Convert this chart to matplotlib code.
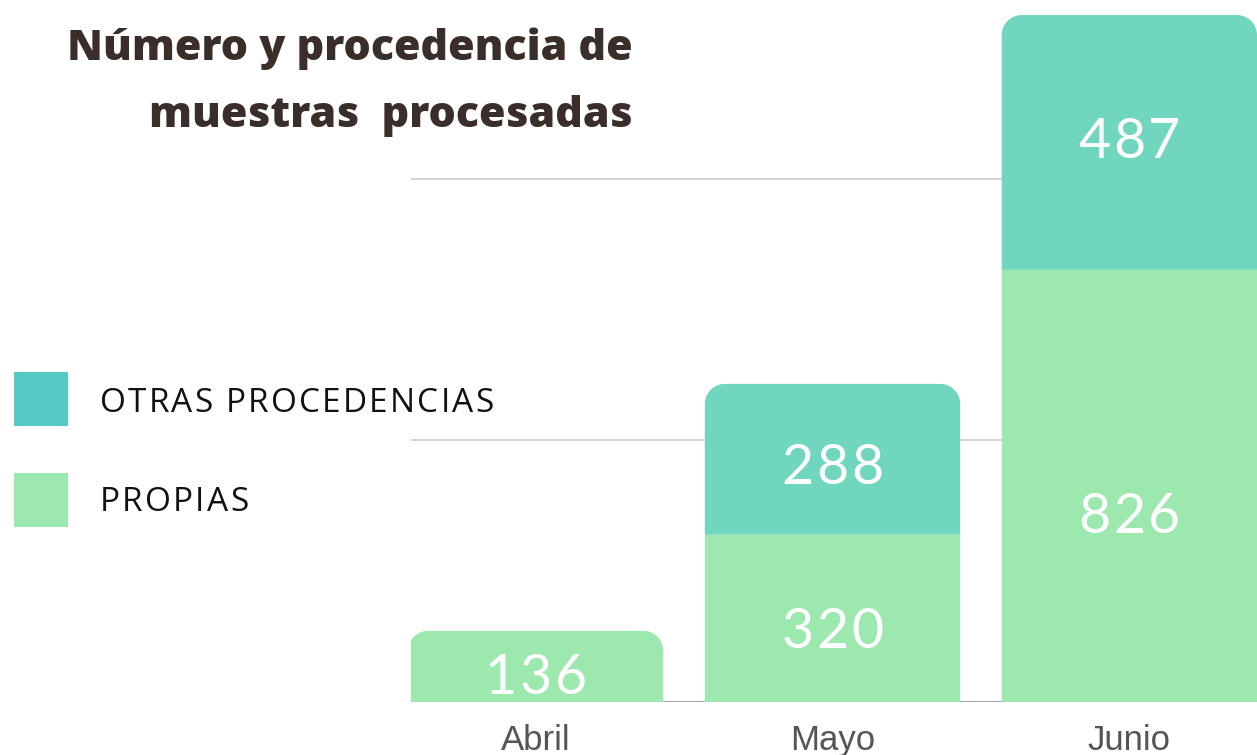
import matplotlib
matplotlib.use("Agg")
import matplotlib.pyplot as plt
from matplotlib.patches import Rectangle, PathPatch
from matplotlib.path import Path
from matplotlib.font_manager import FontProperties
import numpy as np

# ---- data ----
months = ["Abril", "Mayo", "Junio"]
propias = [136, 320, 826]
otras = [0, 288, 487]
grid_vals = [500, 1000]

c_prop = "#9de8ae"
c_otras = "#70d6bd"
c_leg_otras = "#55c9c5"
title_color = "#3a2e2a"

W, H = 1257, 755
fig = plt.figure(figsize=(W / 100, H / 100), dpi=100)
ax = fig.add_axes([411 / W, 1 - 702 / H, 846 / W, 702 / H])

x = np.arange(len(months))
width = 0.86
ax.set_xlim(-0.42, 2.43)
ax.set_ylim(0, 702 / 0.5232)

bars_p = ax.bar(x, propias, width, color=c_prop, zorder=2, linewidth=0)
bars_o = ax.bar(x, otras, width, bottom=propias, color=c_otras, zorder=2, linewidth=0)
for b in list(bars_p) + list(bars_o):
    b.set_snap(False)

for v in grid_vals:
    ax.axhline(v, color="#d4d4d4", lw=1.5, zorder=1)
ax.axhline(0, color="#999999", lw=2, zorder=1)

for s in ax.spines.values():
    s.set_visible(False)
ax.set_yticks([])
ax.set_xticks([])

fig.canvas.draw()
px_per_x = 846 / (2.43 + 0.42)
px_per_y = 702 / ax.get_ylim()[1]
r_px = 20
rx, ry = r_px / px_per_x, r_px / px_per_y
k = 0.5523
for i in range(len(months)):
    top = bars_o[i] if otras[i] > 0 else bars_p[i]
    x0, y0 = top.get_x(), top.get_y()
    x1, y1 = x0 + top.get_width(), y0 + top.get_height()
    col = top.get_facecolor()
    top.set_visible(False)
    verts = [(x0, y0), (x1, y0), (x1, y1 - ry),
             (x1, y1 - ry + k * ry), (x1 - rx + k * rx, y1), (x1 - rx, y1),
             (x0 + rx, y1),
             (x0 + rx - k * rx, y1), (x0, y1 - ry + k * ry), (x0, y1 - ry),
             (x0, y0)]
    codes = [Path.MOVETO, Path.LINETO, Path.LINETO,
             Path.CURVE4, Path.CURVE4, Path.CURVE4,
             Path.LINETO,
             Path.CURVE4, Path.CURVE4, Path.CURVE4,
             Path.CLOSEPOLY]
    pp = PathPatch(Path(verts, codes), fc=col, ec="none", zorder=2, snap=False)
    ax.add_patch(pp)

renderer = fig.canvas.get_renderer()


def tracked(xpx, ypx, s, prop, color, track, ha="center", va="center_baseline"):
    """xpx, ypx in pixel coords measured from top-left"""
    widths = [renderer.get_text_width_height_descent(ch, prop, ismath=False)[0] for ch in s]
    total = sum(widths) + track * (len(s) - 1)
    start = xpx - total / 2 if ha == "center" else xpx
    for ch, w in zip(s, widths):
        fig.text(start / W, 1 - ypx / H, ch, fontproperties=prop, color=color,
                 ha="left", va=va)
        start += w + track


def data_to_px(xd, yd):
    X, Y = ax.transData.transform((xd, yd))
    return X, H - Y


# value labels (pixel nudges relative to segment middle)
val_prop = FontProperties(family="Lato", size=40)
nudge_p = [7, 9, 27]
nudge_o = [0, 4, -5]
for i in range(len(months)):
    if propias[i] > 0:
        cx, cy = data_to_px(x[i], propias[i] / 2)
        tracked(cx, cy + nudge_p[i], str(propias[i]), val_prop, "white", 3)
    if otras[i] > 0:
        cx, cy = data_to_px(x[i], propias[i] + otras[i] / 2)
        tracked(cx, cy + nudge_o[i], str(otras[i]), val_prop, "white", 3)

# month labels
tick_prop = FontProperties(family="Liberation Sans", size=25)
for i, m in enumerate(months):
    cx, _ = data_to_px(x[i], 0)
    fig.text(cx / W, 1 - 750 / H, m, fontproperties=tick_prop, color="#555555",
             ha="center", va="baseline")

# title
title_prop = FontProperties(family="Open Sans", weight=800, size=31)
fig.text(633 / W, 1 - 60 / H, "Número y procedencia de", fontproperties=title_prop,
         color=title_color, ha="right", va="baseline")
fig.text(633 / W, 1 - 127 / H, "muestras  procesadas", fontproperties=title_prop,
         color=title_color, ha="right", va="baseline")

# legend
leg_prop = FontProperties(family="Open Sans", size=24)
fig.patches.append(Rectangle((14 / W, 1 - 426 / H), 54 / W, 54 / H, transform=fig.transFigure,
                             fc=c_leg_otras, ec="none"))
fig.patches.append(Rectangle((14 / W, 1 - 527 / H), 54 / W, 54 / H, transform=fig.transFigure,
                             fc=c_prop, ec="none"))
tracked(100, 412, "OTRAS PROCEDENCIAS", leg_prop, "#111111", 2.2, ha="left", va="baseline")
tracked(100, 511, "PROPIAS", leg_prop, "#111111", 2.2, ha="left", va="baseline")

fig.savefig("out.png", dpi=100)
